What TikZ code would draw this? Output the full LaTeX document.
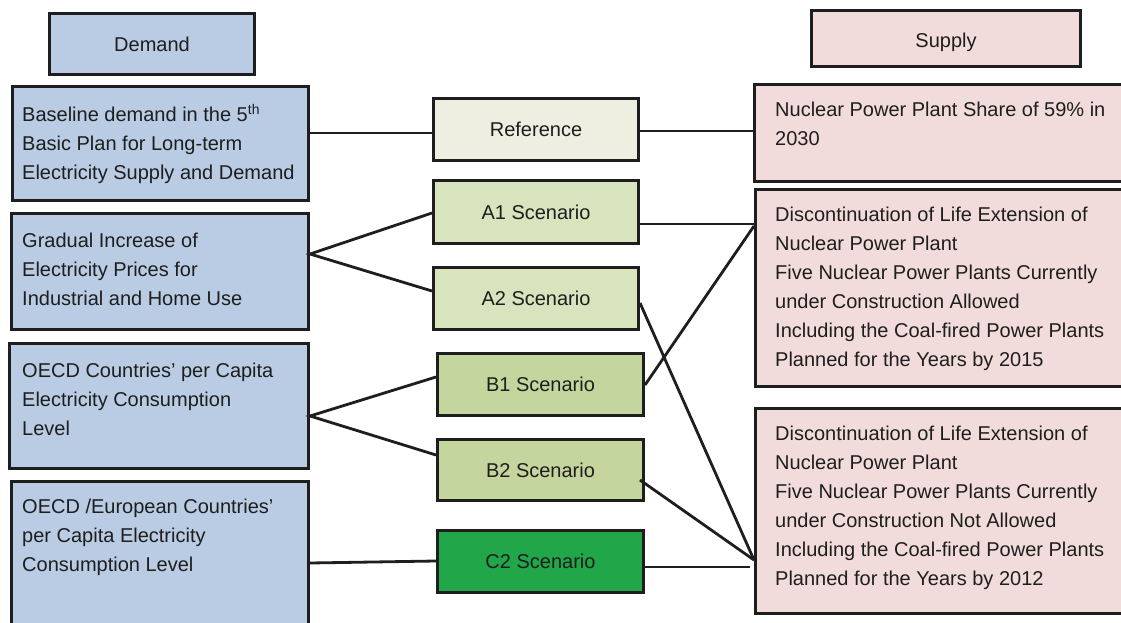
\documentclass[tikz,border=0pt]{standalone}
\usepackage{fontspec}
\setmainfont{Liberation Sans}
\definecolor{demblue}{HTML}{B9CCE4}
\definecolor{refcream}{HTML}{EEEEE1}
\definecolor{agreen}{HTML}{D7E4BD}
\definecolor{bgreen}{HTML}{C4D69E}
\definecolor{cgreen}{HTML}{22A64A}
\definecolor{suppink}{HTML}{F2DCDB}
\definecolor{ink}{HTML}{1E1E1E}
\begin{document}
\begin{tikzpicture}[x=1pt,y=-1pt,
  box/.style={draw=ink, line width=3pt, inner sep=0pt, anchor=north west, font=\fontsize{20}{29}\selectfont, text=ink},
  txt/.style={anchor=west, inner sep=0pt, align=left, font=\fontsize{20}{29}\selectfont, text=ink},
  link/.style={draw=ink, line width=2.8pt}]
\useasboundingbox (0,0) rectangle (1121,623);
\begin{scope}
\clip (0,0) rectangle (1121,623);
% Demand column
\node[box, fill=demblue, minimum width=205pt, minimum height=61pt] (dem) at (48,12) {Demand};
\node[box, fill=demblue, minimum width=296pt, minimum height=114pt] (base) at (11,85) {};
\node[box, fill=demblue, minimum width=297pt, minimum height=116pt] (grad) at (10,212) {};
\node[box, fill=demblue, minimum width=299pt, minimum height=125pt] (oecd) at (8,342) {};
\node[box, fill=demblue, minimum width=297pt, minimum height=160pt] (oeur) at (10,480) {};
\node[txt] (tbase) at (22,144) {Baseline demand in the 5\textsuperscript{th}\\Basic Plan for Long-term\\Electricity Supply and Demand};
\node[txt] (tgrad) at (22,269) {Gradual Increase of\\Electricity Prices for\\Industrial and Home Use};
\node[txt] (toecd) at (22,399) {OECD Countries’ per Capita\\Electricity Consumption\\Level};
\node[txt] (toeur) at (22,537) {OECD /European Countries’\\per Capita Electricity\\Consumption Level};
% Scenarios
\node[box, fill=refcream, minimum width=205pt, minimum height=62pt] (ref) at (432,97) {Reference};
\node[box, fill=agreen, minimum width=205pt, minimum height=63pt] (a1) at (432,179) {A1 Scenario};
\node[box, fill=agreen, minimum width=205pt, minimum height=62pt] (a2) at (432,266) {A2 Scenario};
\node[box, fill=bgreen, minimum width=206pt, minimum height=62pt] (b1) at (436,352) {B1 Scenario};
\node[box, fill=bgreen, minimum width=206pt, minimum height=61pt] (b2) at (436,438) {B2 Scenario};
\node[box, fill=cgreen, minimum width=206pt, minimum height=62pt] (c2) at (436,529) {C2 Scenario};
% Supply column
\node[box, fill=suppink, minimum width=269pt, minimum height=56pt] (sup) at (810,9) {\raisebox{-4pt}[\height][\depth]{Supply}};
\node[box, fill=suppink, minimum width=400pt, minimum height=97pt] (nuc) at (753,83) {};
\node[box, fill=suppink, minimum width=400pt, minimum height=197pt] (s2) at (754,188) {};
\node[box, fill=suppink, minimum width=400pt, minimum height=205pt] (s3) at (754,407) {};
\node[txt] (tnuc) at (775,124) {Nuclear Power Plant Share of 59\% in\\2030};
\node[txt] (ts2) at (775,289) {Discontinuation of Life Extension of\\Nuclear Power Plant\\Five Nuclear Power Plants Currently\\under Construction Allowed\\Including the Coal-fired Power Plants\\Planned for the Years by 2015};
\node[txt] (ts3) at (775,508) {Discontinuation of Life Extension of\\Nuclear Power Plant\\Five Nuclear Power Plants Currently\\under Construction Not Allowed\\Including the Coal-fired Power Plants\\Planned for the Years by 2012};
% connectors
\coordinate (b2in) at ([xshift=-5pt]b2.east);
\coordinate (s3out) at ([xshift=-4pt]s3.west);
\draw[link] (base.east |- 0,133) -- (ref.west |- 0,133);
\draw[link] (ref.east |- 0,131) -- (nuc.west |- 0,131);
\draw[link] (a1.west |- 0,213) -- (grad.east |- 0,254) -- (a2.west |- 0,291);
\draw[link] (b1.west |- 0,377) -- (oecd.east |- 0,416) -- (b2.west |- 0,455);
\draw[link] (oeur.east |- 0,563) -- (c2.west |- 0,561);
\draw[link] (a1.east |- 0,224) -- (s2.west |- 0,224);
\draw[link] (a2.east |- 0,303) -- (s3.west |- 0,560);
\draw[link] (b1.east |- 0,385) -- (s2.west |- 0,226);
\draw[link] (b2in |- 0,480) -- (s3.west |- 0,560);
\draw[link] (c2.east |- 0,567) -- (s3out |- 0,567);
\end{scope}
\end{tikzpicture}
\end{document}
